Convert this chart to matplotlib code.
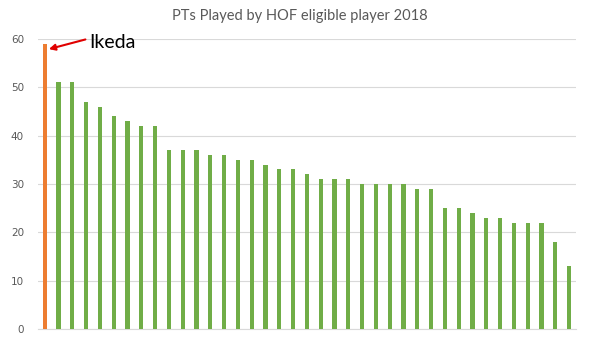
import matplotlib
matplotlib.use('Agg')
import matplotlib.pyplot as plt
import numpy as np

# points played per player, sorted
pts = [59, 51, 51, 47, 46, 44, 43, 42, 42, 37, 37, 37, 36, 36, 35, 35, 34, 33, 33,
       32, 31, 31, 31, 30, 30, 30, 30, 29, 29, 25, 25, 24, 23, 23, 22, 22, 22, 18, 13]
yticks = [0, 10, 20, 30, 40, 50, 60]
title = 'PTs Played by HOF eligible player 2018'

orange = '#ED7D31'
green = '#70AD47'
colors = [orange] + [green] * (len(pts) - 1)

fig = plt.figure(figsize=(6, 3.48), dpi=100)
ax = fig.add_axes([0.063, 0.055, 0.897, 0.833])
x = np.arange(len(pts))
ax.bar(x, pts, width=0.3, color=colors, zorder=3)

ax.set_xlim(-0.5, len(pts) - 0.5)
ax.set_ylim(0, 60)
ax.set_yticks(yticks)
ax.set_xticks([])
ax.grid(axis='y', color='#D9D9D9', linewidth=0.8, zorder=0)
for s in ['top', 'right', 'left']:
    ax.spines[s].set_visible(False)
ax.spines['bottom'].set_color('#D9D9D9')
ax.tick_params(axis='y', length=0, labelsize=7.5, labelcolor='#595959', pad=10)

fig.text(0.5, 0.955, title, ha='center', va='center', fontsize=10.5,
         color='#595959', family='Lato')

# label + arrow pointing at the first bar
ax.text(3.25, 59.2, 'Ikeda', fontsize=14, va='center', ha='left',
        color='black', family='Lato')
ax.annotate('', xy=(0.3, 57.9), xytext=(2.95, 59.9),
            arrowprops=dict(arrowstyle='-|>', color='#E00000', lw=1.5,
                            mutation_scale=9, shrinkA=0, shrinkB=0))

fig.savefig('out.png', dpi=100)
